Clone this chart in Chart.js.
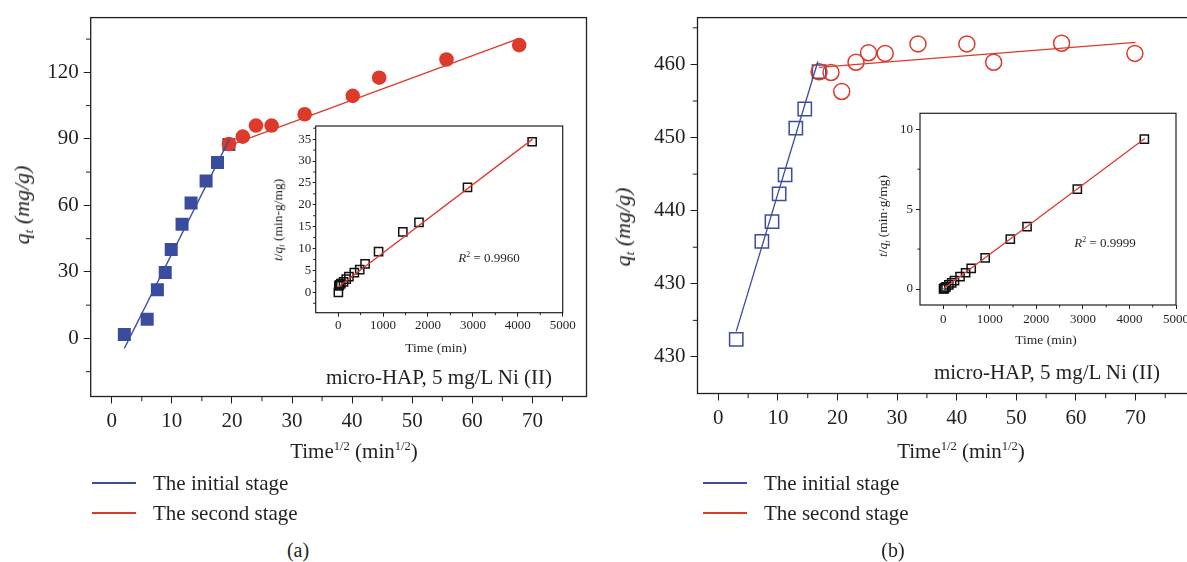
<!DOCTYPE html>
<html>
<head>
<meta charset="utf-8">
<title>Intraparticle diffusion, micro-HAP</title>
<script src="https://cdn.jsdelivr.net/npm/chart.js@4.4.1/dist/chart.umd.min.js"></script>
<style>
  body { margin: 0; width: 1187px; height: 562px; overflow: hidden; background: #fff; position: relative;
         font-family: "Liberation Serif", "Times New Roman", serif; color: #231f20; }
  .pane { position: absolute; }
  .t { position: absolute; white-space: nowrap; line-height: 1; z-index: 3; transform: translate(-50%, -50%); }
  .rot { transform: translate(-50%, -50%) rotate(-90deg); }
  sup { font-size: 60%; vertical-align: 0.6em; line-height: 0; }
  sub { font-size: 60%; vertical-align: -0.3em; line-height: 0; }
  .legend { position: absolute; font-size: 21px; z-index: 3; }
  .legend div { height: 30px; display: flex; align-items: center; }
  .legend .ln { display: inline-block; width: 44px; height: 2px; margin-right: 17px; }
</style>
</head>
<body>
<div class="pane" style="left:0;top:0;width:600px;height:470px"><canvas id="mainA"></canvas></div>
<div class="pane" style="left:600px;top:0;width:600px;height:470px"><canvas id="mainB"></canvas></div>
<div class="pane" style="left:260px;top:115px;width:320px;height:250px;z-index:2"><canvas id="insetA"></canvas></div>
<div class="pane" style="left:865px;top:100px;width:340px;height:260px;z-index:2"><canvas id="insetB"></canvas></div>

<!-- axis titles and notes, panel (a) -->
<div class="t rot" style="left:22px;top:205px;font-size:22px"><i>q<sub>t</sub> (mg/g)</i></div>
<div class="t" style="left:354px;top:451px;font-size:21px">Time<sup>1/2</sup> (min<sup>1/2</sup>)</div>
<div class="t" style="left:439px;top:377px;font-size:21px">micro-HAP, 5 mg/L Ni (II)</div>
<div class="t rot" style="left:278px;top:220px;font-size:13.5px"><i>t</i>/<i>q<sub>t</sub></i> (min-g/mg)</div>
<div class="t" style="left:436px;top:348px;font-size:13.5px">Time (min)</div>
<div class="t" style="left:489px;top:257px;font-size:13px"><i>R</i><sup>2</sup> = 0.9960</div>
<div class="t" style="left:298px;top:550px;font-size:20px">(a)</div>

<!-- axis titles and notes, panel (b) -->
<div class="t rot" style="left:623px;top:227px;font-size:22px"><i>q<sub>t</sub> (mg/g)</i></div>
<div class="t" style="left:961px;top:451px;font-size:21px">Time<sup>1/2</sup> (min<sup>1/2</sup>)</div>
<div class="t" style="left:1047px;top:372px;font-size:21px">micro-HAP, 5 mg/L Ni (II)</div>
<div class="t rot" style="left:883px;top:216px;font-size:13.5px"><i>t</i>/<i>q<sub>t</sub></i> (min·g/mg)</div>
<div class="t" style="left:1046px;top:340px;font-size:13.5px">Time (min)</div>
<div class="t" style="left:1105px;top:242px;font-size:13px"><i>R</i><sup>2</sup> = 0.9999</div>
<div class="t" style="left:893px;top:550px;font-size:20px">(b)</div>

<div class="legend" id="legendA" style="left:92px;top:468px"></div>
<div class="legend" id="legendB" style="left:703px;top:468px"></div>

<script>
const SERIF = '"Liberation Serif", "Times New Roman", serif';
const INK = '#231f20';
const BLUE = '#3a4c9e';
const RED = '#dc3b2c';

// ---- panel (a): q_t against t^1/2 ----
const aInitialX = [2.1, 5.9, 7.6, 8.9, 9.9, 11.7, 13.2, 15.7, 17.6, 19.5];
const aInitialY = [1.8, 8.6, 21.9, 29.7, 40.1, 51.5, 61.1, 71.0, 79.3, 87.5];
const aSecondX = [19.5, 21.8, 24.0, 26.6, 32.1, 40.1, 44.5, 55.7, 67.8];
const aSecondY = [87.7, 91.0, 96.0, 96.0, 101.1, 109.4, 117.6, 125.8, 132.3];
const aInitialFitX = [2.1, 19.6];
const aInitialFitY = [-4.5, 90.0];
const aSecondFitX = [19.5, 67.6];
const aSecondFitY = [87.0, 135.1];
const aXTicks = [0, 10, 20, 30, 40, 50, 60, 70];
const aXMinor = [5, 15, 25, 35, 45, 55, 65, 75];
const aYTicks = [0, 30, 60, 90, 120];
const aYMinor = [-15, 15, 45, 75, 105, 135];

// inset (a): t/q_t against t
const aInsetT = [5, 15, 30, 60, 120, 180, 240, 360, 480, 600, 900, 1440, 1800, 2880, 4320];
const aInsetY = [0.0, 1.5, 1.7, 2.0, 2.4, 3.0, 3.6, 4.5, 5.2, 6.5, 9.3, 13.8, 16.0, 24.0, 34.4];
const aInsetFitT = [0, 4330];
const aInsetFitY = [1.2, 35.0];
const aInsetYTicks = [0, 5, 10, 15, 20, 25, 30, 35];
const aInsetYMinor = [-2.5, 2.5, 7.5, 12.5, 17.5, 22.5, 27.5, 32.5, 37.5];

// ---- panel (b) ----
const bInitialX = [3.0, 7.3, 9.0, 10.2, 11.2, 13.0, 14.5, 16.9];
const bInitialY = [422.4, 435.8, 438.5, 442.3, 444.9, 451.3, 453.9, 459.0];
const bSecondX = [16.9, 18.9, 20.7, 23.1, 25.2, 28.0, 33.5, 41.7, 46.2, 57.6, 69.9];
const bSecondY = [459.0, 458.9, 456.3, 460.3, 461.6, 461.5, 462.8, 462.8, 460.3, 462.9, 461.5];
const bInitialFitX = [3.0, 16.7];
const bInitialFitY = [423.5, 460.4];
const bSecondFitX = [16.9, 70.0];
const bSecondFitY = [459.6, 463.0];
const bYTicks = [420, 430, 440, 450, 460];
const bYTickLabels = ['430', '430', '440', '450', '460'];
const bYMinor = [425, 435, 445, 455, 465];

// inset (b)
const bInsetT = [5, 15, 30, 60, 120, 180, 240, 360, 480, 600, 900, 1440, 1800, 2880, 4320];
const bInsetY = [0.01, 0.03, 0.07, 0.13, 0.26, 0.39, 0.52, 0.78, 1.02, 1.29, 1.95, 3.12, 3.91, 6.25, 9.38];
const bInsetFitT = [0, 4330];
const bInsetFitY = [0.0, 9.42];
const bInsetYTicks = [0, 5, 10];
const bInsetYMinor = [2.5, 7.5];

const insetXTicks = [0, 1000, 2000, 3000, 4000, 5000];
const insetXMinor = [500, 1500, 2500, 3500, 4500];

function zip(xs, ys) {
    return xs.map((x, i) => ({ x: x, y: ys[i] }));
}

// white plot area, full frame and the short minor ticks
const boxPlugin = {
    id: 'box',
    defaults: { minorX: [], minorY: [], minorLen: 4, lineWidth: 1.3 },
    beforeDraw(chart) {
        const a = chart.chartArea;
        chart.ctx.save();
        chart.ctx.fillStyle = '#fff';
        chart.ctx.fillRect(a.left, a.top, a.right - a.left, a.bottom - a.top);
        chart.ctx.restore();
    },
    afterDraw(chart, args, o) {
        const ctx = chart.ctx;
        const a = chart.chartArea;
        const x = chart.scales.x;
        const y = chart.scales.y;
        ctx.save();
        ctx.strokeStyle = INK;
        ctx.lineWidth = 1;
        ctx.beginPath();
        o.minorX.forEach(v => {
            const p = x.getPixelForValue(v);
            ctx.moveTo(p, a.bottom);
            ctx.lineTo(p, a.bottom + o.minorLen);
        });
        o.minorY.forEach(v => {
            const p = y.getPixelForValue(v);
            ctx.moveTo(a.left, p);
            ctx.lineTo(a.left - o.minorLen, p);
        });
        ctx.stroke();
        ctx.lineWidth = o.lineWidth;
        ctx.strokeRect(a.left, a.top, a.right - a.left, a.bottom - a.top);
        ctx.restore();
    }
};

function axis(min, max, ticks, labels, fontSize, tickLen, pad, size, horizontal) {
    return {
        type: 'linear',
        min: min,
        max: max,
        afterBuildTicks: s => { s.ticks = ticks.map(v => ({ value: v })); },
        afterFit: s => { if (horizontal) { s.height = size; } else { s.width = size; } },
        ticks: {
            callback: (v, i) => labels[i],
            font: { family: SERIF, size: fontSize },
            color: INK,
            padding: pad,
            maxRotation: 0,
            autoSkip: false
        },
        grid: { drawOnChartArea: false, drawTicks: true, tickLength: tickLen, color: INK, tickWidth: 1 },
        border: { display: false }
    };
}

function fitLine(label, xs, ys, color, order) {
    return {
        label: label,
        data: zip(xs, ys),
        showLine: true,
        borderColor: color,
        borderWidth: 1.3,
        pointRadius: 0,
        order: order
    };
}

function points(xs, ys, style, radius, color, filled, order) {
    return {
        label: '',
        data: zip(xs, ys),
        pointStyle: style,
        pointRadius: radius,
        pointBorderWidth: filled ? 0 : 1.5,
        pointBorderColor: color,
        pointBackgroundColor: filled ? color : 'rgba(0,0,0,0)',
        order: order
    };
}

function baseOptions(padding, xScale, yScale, box) {
    return {
        responsive: true,
        maintainAspectRatio: false,
        animation: false,
        events: [],
        layout: { padding: padding },
        scales: { x: xScale, y: yScale },
        plugins: { legend: { display: false }, tooltip: { enabled: false }, box: box }
    };
}

const mainA = new Chart(document.getElementById('mainA'), {
    type: 'scatter',
    data: {
        datasets: [
            fitLine('The initial stage', aInitialFitX, aInitialFitY, BLUE, 1),
            fitLine('The second stage', aSecondFitX, aSecondFitY, RED, 2),
            points(aSecondX, aSecondY, 'circle', 7.3, RED, true, 3),
            points(aInitialX, aInitialY, 'rect', 9.2, BLUE, true, 4)
        ]
    },
    options: baseOptions(
        { left: 0, top: 11.7, right: 13.5, bottom: 0 },
        axis(-3.5, 79, aXTicks, aXTicks.map(String), 21, 7, 5, 73.5, true),
        axis(-26.2, 144.7, aYTicks, aYTicks.map(String), 21, 7, 5, 90.7, false),
        { minorX: aXMinor, minorY: aYMinor, minorLen: 4.7, lineWidth: 1.3 }
    ),
    plugins: [boxPlugin]
});

const mainB = new Chart(document.getElementById('mainB'), {
    type: 'scatter',
    data: {
        datasets: [
            fitLine('The initial stage', bInitialFitX, bInitialFitY, BLUE, 1),
            fitLine('The second stage', bSecondFitX, bSecondFitY, RED, 2),
            points(bSecondX, bSecondY, 'circle', 8, RED, false, 3),
            points(bInitialX, bInitialY, 'rect', 9.4, BLUE, false, 4)
        ]
    },
    options: baseOptions(
        { left: 0, top: 11.7, right: 1.2, bottom: 0 },
        axis(-3.5, 79, aXTicks, aXTicks.map(String), 21, 7, 5, 76.5, true),
        axis(415.0, 466.4, bYTicks, bYTickLabels, 21, 7, 5, 97.5, false),
        { minorX: aXMinor, minorY: bYMinor, minorLen: 4.7, lineWidth: 1.3 }
    ),
    plugins: [boxPlugin]
});

const insetA = new Chart(document.getElementById('insetA'), {
    type: 'scatter',
    data: {
        datasets: [
            fitLine('fit', aInsetFitT, aInsetFitY, RED, 1),
            points(aInsetT, aInsetY, 'rect', 5.8, '#111', false, 2)
        ]
    },
    options: baseOptions(
        { left: 0, top: 11, right: 17.3, bottom: 0 },
        axis(-500, 5000, insetXTicks, insetXTicks.map(String), 13, 4, 1, 52.3, true),
        axis(-4.65, 38, aInsetYTicks, aInsetYTicks.map(String), 13, 3, 1.5, 55.7, false),
        { minorX: insetXMinor, minorY: aInsetYMinor, minorLen: 2.5, lineWidth: 1.2 }
    ),
    plugins: [boxPlugin]
});

const insetB = new Chart(document.getElementById('insetB'), {
    type: 'scatter',
    data: {
        datasets: [
            fitLine('fit', bInsetFitT, bInsetFitY, RED, 1),
            points(bInsetT, bInsetY, 'rect', 5.8, '#111', false, 2)
        ]
    },
    options: baseOptions(
        { left: 0, top: 13.3, right: 29, bottom: 0 },
        axis(-500, 5000, insetXTicks, insetXTicks.map(String), 13, 4, 3, 55, true),
        axis(-1, 11, bInsetYTicks, bInsetYTicks.map(String), 13, 4, 3, 55, false),
        { minorX: insetXMinor, minorY: bInsetYMinor, minorLen: 2.5, lineWidth: 1.2 }
    ),
    plugins: [boxPlugin]
});

// legends below each panel, taken from the fitted-line datasets
function buildLegend(id, chart) {
    const el = document.getElementById(id);
    chart.data.datasets.filter(d => d.showLine).forEach(d => {
        const row = document.createElement('div');
        const ln = document.createElement('span');
        ln.className = 'ln';
        ln.style.backgroundColor = d.borderColor;
        row.appendChild(ln);
        row.appendChild(document.createTextNode(d.label));
        el.appendChild(row);
    });
}
buildLegend('legendA', mainA);
buildLegend('legendB', mainB);
</script>
</body>
</html>
